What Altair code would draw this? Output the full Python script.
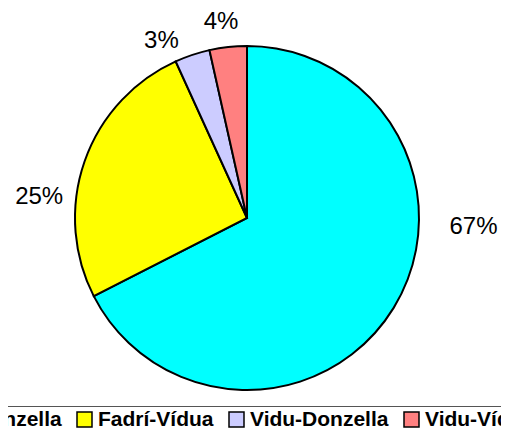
import math
import altair as alt
import pandas as pd

categories = ["Fadrí-Donzella", "Fadrí-Vídua", "Vidu-Donzella", "Vidu-Vídua"]
values = [67.5, 25.7, 3.3, 3.5]
labels = ["67%", "25%", "3%", "4%"]
colors = ["#00FFFF", "#FFFF00", "#CCCCFF", "#FF8080"]

df = pd.DataFrame({
    "cat": categories,
    "value": values,
    "label": labels,
    "idx": list(range(len(categories))),
})

base = alt.Chart(df)

pie = base.mark_arc(outerRadius=172, stroke="black", strokeWidth=2).encode(
    theta=alt.Theta("value:Q", stack=True),
    order=alt.Order("idx:Q"),
    color=alt.Color(
        "cat:N",
        sort=categories,
        scale=alt.Scale(domain=categories, range=colors),
        legend=alt.Legend(
            title=None,
            orient="none",
            direction="horizontal",
            columns=4,
            legendX=-118,
            legendY=398,
            labelFont="Liberation Sans",
            labelFontWeight="bold",
            labelFontSize=21,
            labelColor="black",
            labelOffset=3,
            columnPadding=12,
            symbolType="square",
            symbolSize=225,
            symbolStrokeColor="black",
            symbolStrokeWidth=1.5,
            padding=3,
            strokeColor="#555555",
            fillColor="white",
        ),
    ),
)

offsets = {
    "Fadrí-Donzella": (56, -95),
    "Fadrí-Vídua": (-19, 45),
    "Vidu-Donzella": (-22, 13),
    "Vidu-Vídua": (-4, 3),
}

texts = []
for c in categories:
    dx, dy = offsets[c]
    t = (
        base.transform_window(cum="sum(value)", sort=[alt.SortField("idx")])
        .transform_joinaggregate(total="sum(value)")
        .transform_calculate(mid="(datum.cum - datum.value/2)/datum.total")
        .transform_filter(alt.datum.cat == c)
        .mark_text(radius=200, dx=dx, dy=dy, font="Liberation Sans", fontSize=24,
                   color="black", align="center", baseline="middle")
        .encode(
            theta=alt.Theta("mid:Q", stack=None,
                            scale=alt.Scale(domain=[0, 1], range=[0, 2 * math.pi])),
            text="label:N",
        )
    )
    texts.append(t)

chart = (
    alt.layer(pie, *texts)
    .resolve_scale(theta="independent")
    .properties(
        width=478,
        height=420,
        autosize=alt.AutoSizeParams(type="none"),
        padding={"left": 0, "top": 0, "right": 15, "bottom": 1},
        background="white",
    )
    .configure_view(stroke=None)
)

chart.save("out.html", embed_options={"renderer": "svg", "actions": False})
